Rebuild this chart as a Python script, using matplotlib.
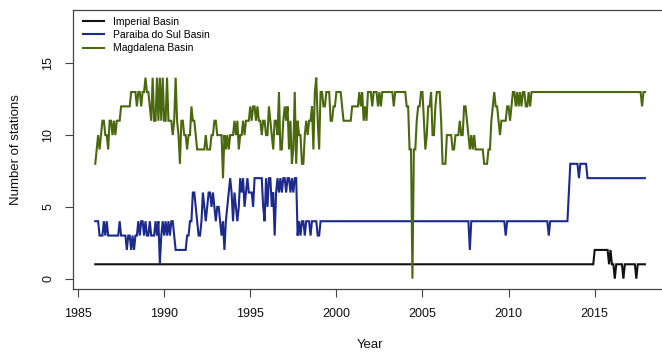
import numpy as np
import matplotlib
matplotlib.use("Agg")
import matplotlib.pyplot as plt

plt.rcParams["font.family"] = ["Liberation Sans", "DejaVu Sans"]

# Monthly station counts, January 1986 onwards
start_year = 1986

imperial = (
    [1] * 348                                        # 1986-2014
    + [2, 2, 2, 2, 2, 2, 2, 2, 2, 2, 1, 2]           # 2015
    + [1, 1, 0, 1, 1, 1, 1, 1, 0, 1, 1, 1]           # 2016
    + [1, 1, 1, 1, 1, 0, 1, 1, 1, 1, 1, 1]           # 2017
)

paraiba = (
    [4, 4, 4, 3, 3, 3, 4, 3, 4, 3, 3, 3]             # 1986
    + [3, 3, 3, 3, 3, 4, 3, 3, 3, 3, 2, 3]           # 1987
    + [3, 2, 3, 2, 3, 3, 4, 3, 4, 4, 3, 4]           # 1988
    + [3, 3, 4, 3, 3, 3, 4, 3, 4, 1, 3, 4]           # 1989
    + [3, 4, 3, 4, 3, 4, 4, 3, 2, 2, 2, 2]           # 1990
    + [2, 2, 2, 2, 3, 3, 4, 4, 6, 6, 5, 4]           # 1991
    + [3, 3, 4, 6, 5, 4, 5, 6, 6, 5, 6, 5]           # 1992
    + [4, 5, 5, 4, 3, 4, 2, 4, 5, 6, 7, 6]           # 1993
    + [4, 6, 5, 4, 5, 7, 6, 7, 5, 6, 7, 6]           # 1994
    + [6, 6, 5, 7, 7, 7, 7, 7, 7, 5, 4, 7]           # 1995
    + [5, 7, 7, 5, 6, 3, 6, 7, 6, 7, 6, 7]           # 1996
    + [7, 6, 7, 7, 6, 7, 6, 7, 7, 3, 4, 3]           # 1997
    + [4, 4, 3, 4, 4, 4, 3, 4, 4, 4, 4, 3]           # 1998
    + [3, 4, 4, 4, 4, 4, 4, 4, 4, 4, 4, 4]           # 1999
    + [4] * 84                                       # 2000-2006
    + [4, 4, 4, 4, 4, 4, 4, 4, 4, 2, 4, 4]           # 2007
    + [4] * 12                                       # 2008
    + [4, 4, 4, 4, 4, 4, 4, 4, 4, 4, 3, 4]           # 2009
    + [4] * 24                                       # 2010-2011
    + [4, 4, 4, 4, 3, 4, 4, 4, 4, 4, 4, 4]           # 2012
    + [4, 4, 4, 4, 4, 4, 6, 8, 8, 8, 8, 8]           # 2013
    + [8, 7, 8, 8, 8, 8, 8, 7, 7, 7, 7, 7]           # 2014
    + [7] * 36                                       # 2015-2017
)

magdalena = (
    [8, 9, 10, 9, 10, 11, 11, 10, 10, 9, 11, 11]     # 1986
    + [10, 11, 10, 11, 11, 11, 12, 12, 12, 12, 12, 12]  # 1987
    + [12, 13, 13, 13, 13, 12, 13, 13, 12, 13, 13, 14]  # 1988
    + [13, 13, 12, 11, 14, 11, 11, 14, 11, 14, 11, 14]  # 1989
    + [11, 11, 14, 11, 11, 11, 10, 11, 14, 11, 10, 8]   # 1990
    + [11, 11, 10, 10, 9, 10, 10, 12, 11, 11, 10, 9]    # 1991
    + [9, 9, 9, 9, 9, 10, 9, 9, 9, 10, 10, 11]          # 1992
    + [11, 10, 10, 10, 10, 7, 10, 9, 10, 9, 10, 10]     # 1993
    + [10, 11, 10, 11, 9, 10, 10, 11, 10, 11, 11, 11]   # 1994
    + [12, 11, 12, 12, 11, 12, 11, 11, 10, 11, 11, 10]  # 1995
    + [10, 12, 11, 10, 9, 11, 11, 10, 13, 9, 9, 11]     # 1996
    + [12, 11, 12, 9, 11, 8, 9, 13, 8, 11, 10, 10]      # 1997
    + [8, 8, 10, 11, 10, 11, 11, 12, 9, 13, 14, 11]     # 1998
    + [9, 13, 13, 12, 12, 13, 13, 13, 11, 11, 12, 12]   # 1999
    + [13, 13, 13, 13, 12, 11, 11, 11, 11, 11, 11, 12]  # 2000
    + [12, 12, 12, 12, 13, 12, 13, 11, 12, 11, 13, 13]  # 2001
    + [13, 12, 13, 13, 13, 12, 13, 12, 13, 13, 13, 13]  # 2002
    + [13, 13, 13, 13, 12, 13, 13, 13, 13, 13, 13, 13]  # 2003
    + [13, 12, 12, 9, 9, 0, 9, 9, 11, 12, 12, 13]       # 2004
    + [13, 11, 9, 10, 12, 12, 13, 10, 10, 12, 13, 13]   # 2005
    + [13, 11, 8, 8, 8, 10, 10, 10, 10, 9, 9, 10]       # 2006
    + [10, 10, 11, 10, 10, 12, 12, 11, 10, 9, 10, 9]    # 2007
    + [10, 9, 9, 9, 9, 9, 9, 8, 8, 8, 9, 9]             # 2008
    + [11, 12, 13, 12, 12, 11, 10, 11, 11, 11, 11, 12]  # 2009
    + [12, 11, 12, 13, 13, 12, 13, 12, 13, 12, 13, 13]  # 2010
    + [12, 12, 13, 12, 13, 13, 13, 13, 13, 13, 13, 13]  # 2011
    + [13] * 60                                          # 2012-2016
    + [13, 13, 13, 13, 13, 13, 13, 13, 13, 12, 13, 13]  # 2017
)

series_names = ["Imperial Basin", "Paraiba do Sul Basin", "Magdalena Basin"]
series_colors = ["#111111", "#1c2a8c", "#4a690e"]
x_ticks = [1985, 1990, 1995, 2000, 2005, 2010, 2015]
y_ticks = [0, 5, 10, 15]

t = start_year + np.arange(len(imperial)) / 12.0

fig = plt.figure(figsize=(6.62, 3.55), dpi=100)
ax = fig.add_axes([0.1106, 0.186, 0.897, 0.786])

for values, name, color in zip([imperial, paraiba, magdalena], series_names, series_colors):
    ax.plot(t, values, color=color, lw=1.5, label=name, solid_joinstyle="miter")

ax.set_xlim(1984.72, 2019.2)
ax.set_ylim(-0.72, 18.72)
ax.set_xticks(x_ticks)
ax.set_yticks(y_ticks)

for s in ax.spines.values():
    s.set_color("#444444")
    s.set_linewidth(0.9)

ax.tick_params(direction="out", length=5.5, width=0.8, color="#444444",
               labelsize=9, labelcolor="#111111")
ax.tick_params(axis="x", pad=8)
ax.tick_params(axis="y", pad=8, labelrotation=90)
for lbl in ax.get_yticklabels():
    lbl.set_va("center")

ax.set_xlabel("Year", fontsize=9.5, labelpad=14, color="#111111")
ax.set_ylabel("Number of stations", fontsize=9.5, labelpad=15, color="#111111")

ax.legend(loc="upper left", bbox_to_anchor=(0.016, 0.975), frameon=False,
          fontsize=7.5, handlelength=2.0, handletextpad=0.9, labelspacing=0.3,
          borderaxespad=0, borderpad=0)

fig.savefig("out.png", dpi=100)
